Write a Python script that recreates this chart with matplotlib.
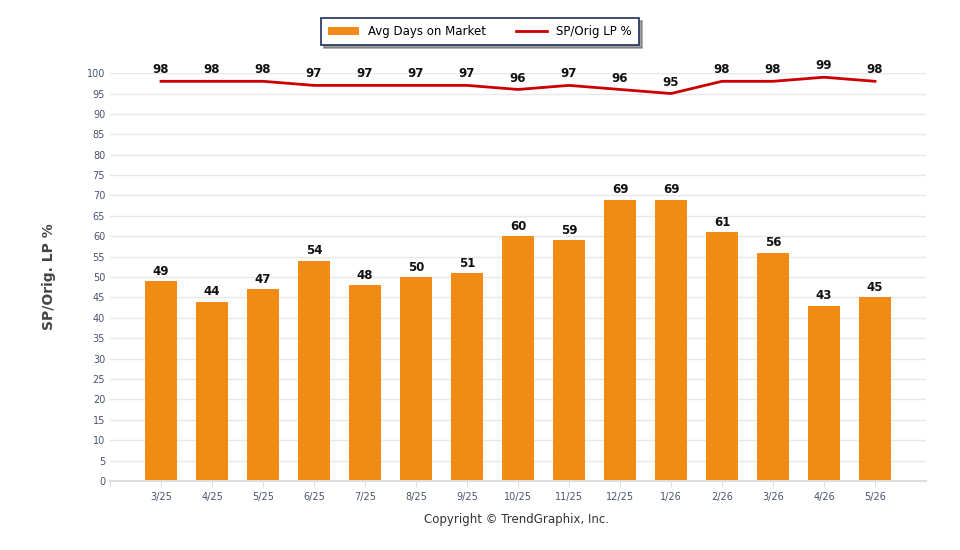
import matplotlib.pyplot as plt
import numpy as np

months = ['3/25', '4/25', '5/25', '6/25', '7/25', '8/25', '9/25', '10/25',
          '11/25', '12/25', '1/26', '2/26', '3/26', '4/26', '5/26']
avg_days = [49, 44, 47, 54, 48, 50, 51, 60, 59, 69, 69, 61, 56, 43, 45]
sp_orig = [98, 98, 98, 97, 97, 97, 97, 96, 97, 96, 95, 98, 98, 99, 98]

fig = plt.figure(figsize=(9.6, 5.5), dpi=100)
ax = fig.add_axes([0.1146, 0.1255, 0.85, 0.7415])

x = np.arange(len(months))
bars = ax.bar(x, avg_days, width=0.63, color='#F08C14', zorder=2,
              label='Avg Days on Market')
line, = ax.plot(x, sp_orig, color='#CC0000', lw=2, zorder=3,
                label='SP/Orig LP %')

for xi, v in zip(x, avg_days):
    ax.text(xi, v + 0.8, str(v), ha='center', va='bottom', fontsize=8.5,
            fontweight='bold', color='#111111', zorder=4)
for xi, v in zip(x, sp_orig):
    ax.text(xi, v + 1.2, str(v), ha='center', va='bottom', fontsize=8.5,
            fontweight='bold', color='#111111', zorder=4)

ax.set_xlim(-1, 15)
ax.set_ylim(0, 100)
ax.set_yticks(np.arange(0, 101, 5))
ax.set_xticks(np.arange(-1, 15))
ax.set_xticklabels([''] + months)
ax.tick_params(axis='both', labelsize=7, colors='#4a5470', length=0)
ax.tick_params(axis='x', length=4, color='#dddddd', pad=4)
ax.grid(axis='y', color='#e8e8e8', lw=1, zorder=0)
for s in ['top', 'right', 'left']:
    ax.spines[s].set_visible(False)
ax.spines['bottom'].set_color('#dddddd')
ax.spines['bottom'].set_linewidth(1.5)

ax.set_ylabel('SP/Orig. LP %', fontsize=10, fontweight='bold', color='#444444',
              labelpad=22)

leg = fig.legend(handles=[bars, line], loc='center', bbox_to_anchor=(0.5, 0.942),
                 ncol=2, fontsize=8.5, frameon=True, fancybox=False, shadow=True,
                 edgecolor='#1f2f5f', handlelength=2.6, columnspacing=2.5,
                 borderpad=0.6)
leg.get_frame().set_linewidth(1.2)

fig.text(0.5375, 0.055, 'Copyright © TrendGraphix, Inc.', ha='center', va='center',
         fontsize=8.5, color='#333333')

fig.savefig('out.png', dpi=100)
